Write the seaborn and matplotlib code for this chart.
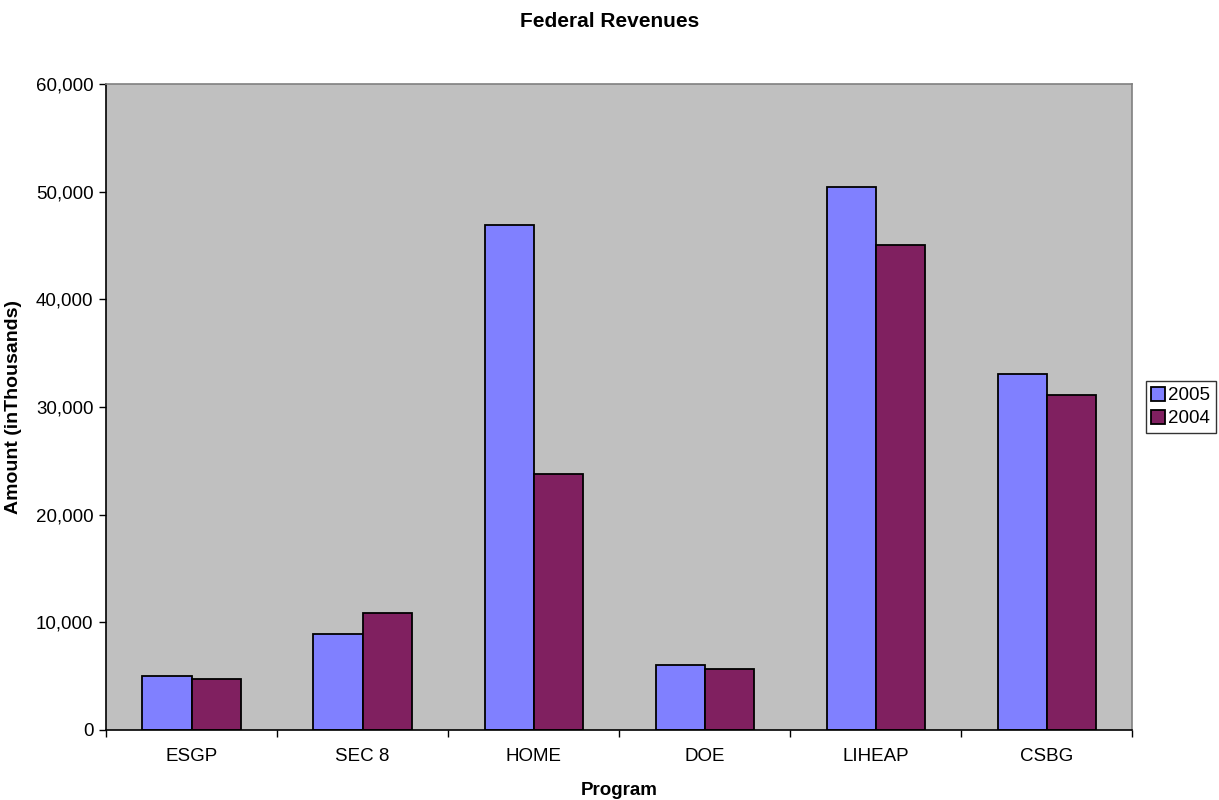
import matplotlib
matplotlib.use("Agg")
import matplotlib.pyplot as plt
import matplotlib.ticker as mticker
import numpy as np
import pandas as pd
import seaborn as sns

# values (in thousands)
programs = ["ESGP", "SEC 8", "HOME", "DOE", "LIHEAP", "CSBG"]
years = ["2005", "2004"]
amount_2005 = [4970, 8880, 46860, 6040, 50430, 33060]
amount_2004 = [4780, 10900, 23820, 5700, 45050, 31140]
colors = ["#8080FF", "#802060"]

df = pd.DataFrame({
    "Program": programs * 2,
    "Year": [years[0]] * len(programs) + [years[1]] * len(programs),
    "Amount": amount_2005 + amount_2004,
})

sns.set_style("white")
plt.rcParams["font.family"] = ["Liberation Sans", "DejaVu Sans"]
plt.rcParams["text.color"] = "black"
plt.rcParams["axes.labelcolor"] = "black"
plt.rcParams["xtick.color"] = "black"
plt.rcParams["ytick.color"] = "black"

fs = 13.5

fig = plt.figure(figsize=(12.19, 8), dpi=100)
ax = fig.add_axes([0.087, 0.0875, 0.842, 0.8075])
ax.set_facecolor("#C0C0C0")

sns.barplot(data=df, x="Program", y="Amount", hue="Year", hue_order=years,
            palette=colors, width=0.575, edgecolor="black", linewidth=1.3,
            saturation=1, ax=ax)

ax.set_ylim(0, 60000)
ax.set_xlim(-0.5, len(programs) - 0.5)
ax.yaxis.set_major_locator(mticker.MultipleLocator(10000))
ax.yaxis.set_major_formatter(mticker.StrMethodFormatter("{x:,.0f}"))
ax.tick_params(axis="y", which="major", direction="out", length=5, width=1,
               left=True, labelsize=fs, pad=4)
ax.tick_params(axis="x", which="major", length=0, labelsize=fs, pad=13)
ax.set_xticks(np.arange(-0.5, len(programs)), minor=True)
ax.tick_params(axis="x", which="minor", direction="out", length=5, width=1,
               bottom=True)

for side in ["left", "bottom"]:
    ax.spines[side].set_color("black")
    ax.spines[side].set_linewidth(1.2)
for side in ["top", "right"]:
    ax.spines[side].set_visible(True)
    ax.spines[side].set_color("#808080")
    ax.spines[side].set_linewidth(1.2)

ax.set_xlabel("Program", fontsize=fs, fontweight="bold", labelpad=12)
ax.set_ylabel("Amount (inThousands)", fontsize=14, fontweight="bold", labelpad=10)
fig.suptitle("Federal Revenues", fontsize=15, fontweight="bold", y=0.985)

leg = ax.legend(loc="center left", bbox_to_anchor=(1.013, 0.5), frameon=True,
                fancybox=False, edgecolor="black", fontsize=fs,
                handlelength=0.75, handleheight=0.75, handletextpad=0.15,
                borderpad=0.3, labelspacing=0.3, borderaxespad=0)
leg.get_frame().set_linewidth(1)

fig.savefig("out.png", dpi=100)
